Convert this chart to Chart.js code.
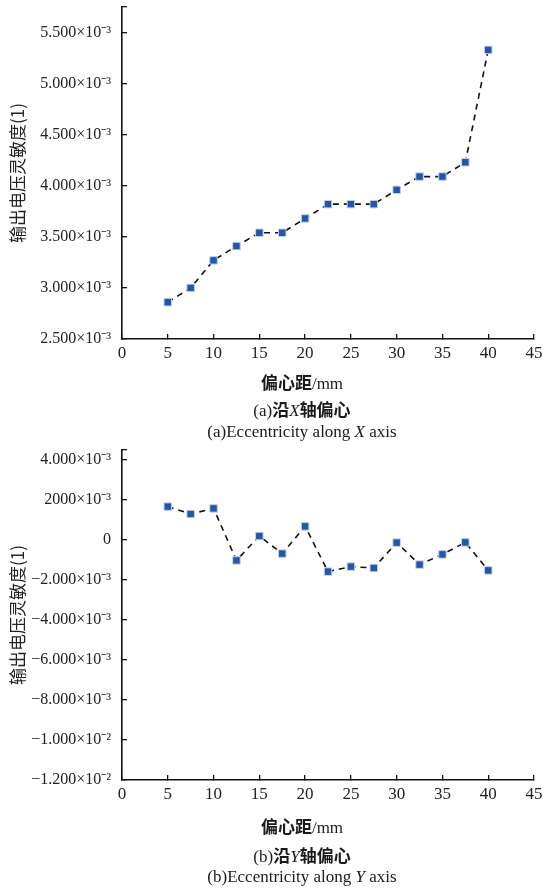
<!DOCTYPE html>
<html>
<head>
<meta charset="utf-8">
<script src="https://cdn.jsdelivr.net/npm/chart.js@4.4.1/dist/chart.umd.min.js"></script>
<style>
  body { margin: 0; background: #fff; width: 543px; height: 889px; position: relative; overflow: hidden; }
  .box { position: absolute; left: 0; width: 543px; }
  .cap { position: absolute; left: 0; width: 604px; text-align: center; line-height: 20px;
         font-family: "Liberation Serif", "Noto Sans CJK SC", serif; font-size: 17px; color: #1a1a1a; white-space: nowrap; }
  .cn { font-family: "Noto Sans CJK SC", sans-serif; }
  .b { font-weight: bold; }
</style>
</head>
<body>
<div class="box" style="top:0;height:370px"><canvas id="chartA"></canvas></div>
<div class="cap" style="top:372px"><span class="cn b">偏心距</span>/mm</div>
<div class="cap" style="top:399px">(a)<span class="cn b">沿</span><i>X</i><span class="cn b">轴偏心</span></div>
<div class="cap" style="top:422px">(a)Eccentricity along <i>X</i> axis</div>

<div class="box" style="top:440px;height:371px"><canvas id="chartB"></canvas></div>
<div class="cap" style="top:816px"><span class="cn b">偏心距</span>/mm</div>
<div class="cap" style="top:845px">(b)<span class="cn b">沿</span><i>Y</i><span class="cn b">轴偏心</span></div>
<div class="cap" style="top:867px">(b)Eccentricity along <i>Y</i> axis</div>

<script>
// 偏心距 (mm)
const offsets = [5, 7.5, 10, 12.5, 15, 17.5, 20, 22.5, 25, 27.5, 30, 32.5, 35, 37.5, 40];
// 沿X轴偏心の灵敏度
const sensX = [2.86e-3, 3.00e-3, 3.27e-3, 3.41e-3, 3.54e-3, 3.54e-3, 3.68e-3, 3.82e-3,
               3.82e-3, 3.82e-3, 3.96e-3, 4.09e-3, 4.09e-3, 4.23e-3, 5.33e-3];
// 沿Y轴偏心の灵敏度
const sensY = [1.67e-3, 1.30e-3, 1.58e-3, -1.02e-3, 0.20e-3, -0.68e-3, 0.68e-3, -1.58e-3,
               -1.33e-3, -1.40e-3, -0.13e-3, -1.23e-3, -0.72e-3, -0.12e-3, -1.52e-3];

const xTicks = [0, 5, 10, 15, 20, 25, 30, 35, 40, 45];
const yTicksA = [2.5e-3, 3.0e-3, 3.5e-3, 4.0e-3, 4.5e-3, 5.0e-3, 5.5e-3, 5.75e-3];
const yLabelsA = ['2.500×10⁻³', '3.000×10⁻³', '3.500×10⁻³', '4.000×10⁻³',
                  '4.500×10⁻³', '5.000×10⁻³', '5.500×10⁻³', ''];
const yTicksB = [-12e-3, -10e-3, -8e-3, -6e-3, -4e-3, -2e-3, 0, 2e-3, 4e-3, 4.5e-3];
const yLabelsB = ['−1.200×10⁻²', '−1.000×10⁻²', '−8.000×10⁻³', '−6.000×10⁻³', '−4.000×10⁻³',
                  '−2.000×10⁻³', '0', '2000×10⁻³', '4.000×10⁻³', ''];

const serif = 'Liberation Serif';

function makeChart(id, values, yTicks, yLabels, padTop) {
  return new Chart(document.getElementById(id), {
    type: 'line',
    data: {
      datasets: [{
        data: offsets.map((x, i) => ({ x: x, y: values[i] })),
        borderColor: '#111',
        borderWidth: 1.6,
        borderDash: [6, 5],
        pointStyle: 'rect',
        pointRadius: 5.3,
        pointBackgroundColor: '#2455a6',
        pointBorderColor: '#c3d2ee',
        pointBorderWidth: 1,
        tension: 0,
      }],
    },
    options: {
      responsive: true,
      maintainAspectRatio: false,
      animation: false,
      layout: { padding: { top: padTop, right: 9, left: 0, bottom: 0 } },
      plugins: {
        legend: { display: false },
        tooltip: { enabled: false },
      },
      scales: {
        x: {
          type: 'linear',
          min: 0,
          max: 45,
          afterBuildTicks: s => { s.ticks = xTicks.map(v => ({ value: v })); },
          afterFit: s => { s.height = 31; s.paddingLeft = 0; s.paddingRight = 0; },
          grid: { drawOnChartArea: false, color: '#111', lineWidth: 1.3, tickLength: -5 },
          border: { color: '#111', width: 1.6 },
          ticks: { font: { family: serif, size: 17 }, color: '#222', padding: 9, maxRotation: 0, autoSkip: false },
        },
        y: {
          type: 'linear',
          min: yTicks[0],
          max: yTicks[yTicks.length - 1],
          afterBuildTicks: s => { s.ticks = yTicks.map(v => ({ value: v })); },
          afterFit: s => { s.width = 122; s.paddingTop = 0; s.paddingBottom = 0; },
          grid: { drawOnChartArea: false, color: '#111', lineWidth: 1.3, tickLength: -5 },
          border: { color: '#111', width: 1.6 },
          ticks: {
            font: { family: serif, size: 16 },
            color: '#222',
            padding: 16,
            autoSkip: false,
            callback: (v, i) => yLabels[i],
          },
          title: {
            display: true,
            text: '输出电压灵敏度(1)',
            font: { family: '"Noto Sans CJK SC"', size: 17 },
            color: '#222',
            padding: { top: 7, bottom: 0 },
          },
        },
      },
    },
  });
}

const chartA = makeChart('chartA', sensX, yTicksA, yLabelsA, 7);
const chartB = makeChart('chartB', sensY, yTicksB, yLabelsB, 10);
</script>
</body>
</html>
